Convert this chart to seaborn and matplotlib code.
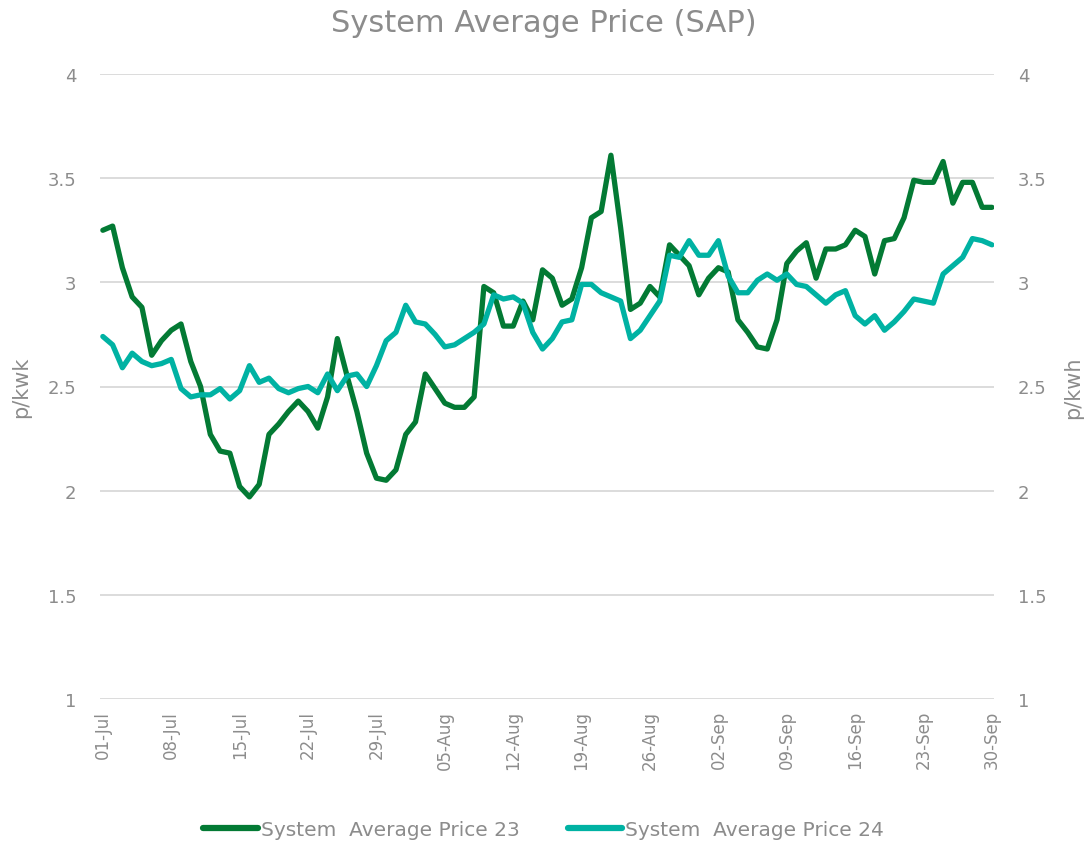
import matplotlib
matplotlib.use("Agg")
import matplotlib.pyplot as plt
import matplotlib.dates as mdates
import seaborn as sns
import pandas as pd
import numpy as np

# ---- data ----
dates = pd.date_range("2023-07-01", "2023-09-30", freq="D")

sap_23 = [3.25, 3.27, 3.07, 2.93, 2.88, 2.65, 2.72, 2.77, 2.80, 2.62,
          2.50, 2.27, 2.19, 2.18, 2.02, 1.97, 2.03, 2.27, 2.32, 2.38,
          2.43, 2.38, 2.30, 2.45, 2.73, 2.55, 2.38, 2.18, 2.06, 2.05,
          2.10, 2.27, 2.33, 2.56, 2.49, 2.42, 2.40, 2.40, 2.45, 2.98,
          2.95, 2.79, 2.79, 2.91, 2.82, 3.06, 3.02, 2.89, 2.92, 3.07,
          3.31, 3.34, 3.61, 3.26, 2.87, 2.90, 2.98, 2.93, 3.18, 3.13,
          3.08, 2.94, 3.02, 3.07, 3.05, 2.82, 2.76, 2.69, 2.68, 2.82,
          3.09, 3.15, 3.19, 3.02, 3.16, 3.16, 3.18, 3.25, 3.22, 3.04,
          3.20, 3.21, 3.31, 3.49, 3.48, 3.48, 3.58, 3.38, 3.48, 3.48,
          3.36, 3.36]

sap_24 = [2.74, 2.70, 2.59, 2.66, 2.62, 2.60, 2.61, 2.63, 2.49, 2.45,
          2.46, 2.46, 2.49, 2.44, 2.48, 2.60, 2.52, 2.54, 2.49, 2.47,
          2.49, 2.50, 2.47, 2.56, 2.48, 2.55, 2.56, 2.50, 2.60, 2.72,
          2.76, 2.89, 2.81, 2.80, 2.75, 2.69, 2.70, 2.73, 2.76, 2.80,
          2.94, 2.92, 2.93, 2.90, 2.76, 2.68, 2.73, 2.81, 2.82, 2.99,
          2.99, 2.95, 2.93, 2.91, 2.73, 2.77, 2.84, 2.91, 3.13, 3.12,
          3.20, 3.13, 3.13, 3.20, 3.03, 2.95, 2.95, 3.01, 3.04, 3.01,
          3.04, 2.99, 2.98, 2.94, 2.90, 2.94, 2.96, 2.84, 2.80, 2.84,
          2.77, 2.81, 2.86, 2.92, 2.91, 2.90, 3.04, 3.08, 3.12, 3.21,
          3.20, 3.18]

series_names = ["System  Average Price 23", "System  Average Price 24"]
series_colors = ["#037a34", "#00b2a3"]
y_ticks = [1, 1.5, 2, 2.5, 3, 3.5, 4]
y_tick_labels = ["1", "1.5", "2", "2.5", "3", "3.5", "4"]
title = "System Average Price (SAP)"
left_label = "p/kwk"
right_label = "p/kwh"

df = pd.concat([
    pd.DataFrame({"date": dates, "value": sap_23, "series": series_names[0]}),
    pd.DataFrame({"date": dates, "value": sap_24, "series": series_names[1]}),
])

# ---- style ----
sns.set_style("white")
plt.rcParams["font.family"] = ["DejaVu Sans"]
grey = "#8c8c8c"

fig = plt.figure(figsize=(10.87, 8.45), dpi=100)
ax = fig.add_axes([100 / 1087, 1 - 700 / 845, 894 / 1087, 625 / 845])

sns.lineplot(data=df, x="date", y="value", hue="series",
             palette=dict(zip(series_names, series_colors)),
             linewidth=3.8, ax=ax, legend=False,
             solid_capstyle="round", solid_joinstyle="round", sort=False)

ax.set_ylim(1, 4)
ax.set_xlim(dates[0] - pd.Timedelta(hours=7), dates[-1] + pd.Timedelta(hours=5))
ax.set_yticks(y_ticks)
ax.set_yticklabels(y_tick_labels)
ax.grid(axis="y", color="#d9d9d9", linewidth=1.3)
ax.grid(axis="x", visible=False)
ax.set_axisbelow(True)
for s in ax.spines.values():
    s.set_visible(False)

ax.set_xticks(dates[::7])
ax.xaxis.set_major_formatter(mdates.DateFormatter("%d-%b"))
ax.tick_params(axis="x", rotation=90, length=0, pad=8, labelsize=12, labelcolor=grey)
ax.tick_params(axis="y", length=0, pad=17, labelsize=13, labelcolor=grey)
ax.set_xlabel("")
ax.set_ylabel(left_label, fontsize=15, color=grey, labelpad=12)

ax2 = ax.twinx()
ax2.set_ylim(1, 4)
ax2.set_yticks(y_ticks)
ax2.set_yticklabels(y_tick_labels)
ax2.tick_params(axis="y", length=0, pad=17, labelsize=13, labelcolor=grey)
ax2.set_ylabel(right_label, fontsize=15, color=grey, labelpad=12)
for s in ax2.spines.values():
    s.set_visible(False)
ax2.grid(False)

fig.text(0.5, 1 - 23 / 845, title, ha="center", va="center",
         fontsize=22, color=grey)

handles = [plt.Line2D([], [], color=c, linewidth=4.5, solid_capstyle="round")
           for c in series_colors]
fig.legend(handles, series_names, loc="center", bbox_to_anchor=(0.5, 1 - 831 / 845),
           ncol=2, frameon=False, fontsize=14.5, labelcolor=grey,
           handlelength=2.7, handletextpad=0.15, columnspacing=2.4)

fig.savefig("out.png", dpi=100)
